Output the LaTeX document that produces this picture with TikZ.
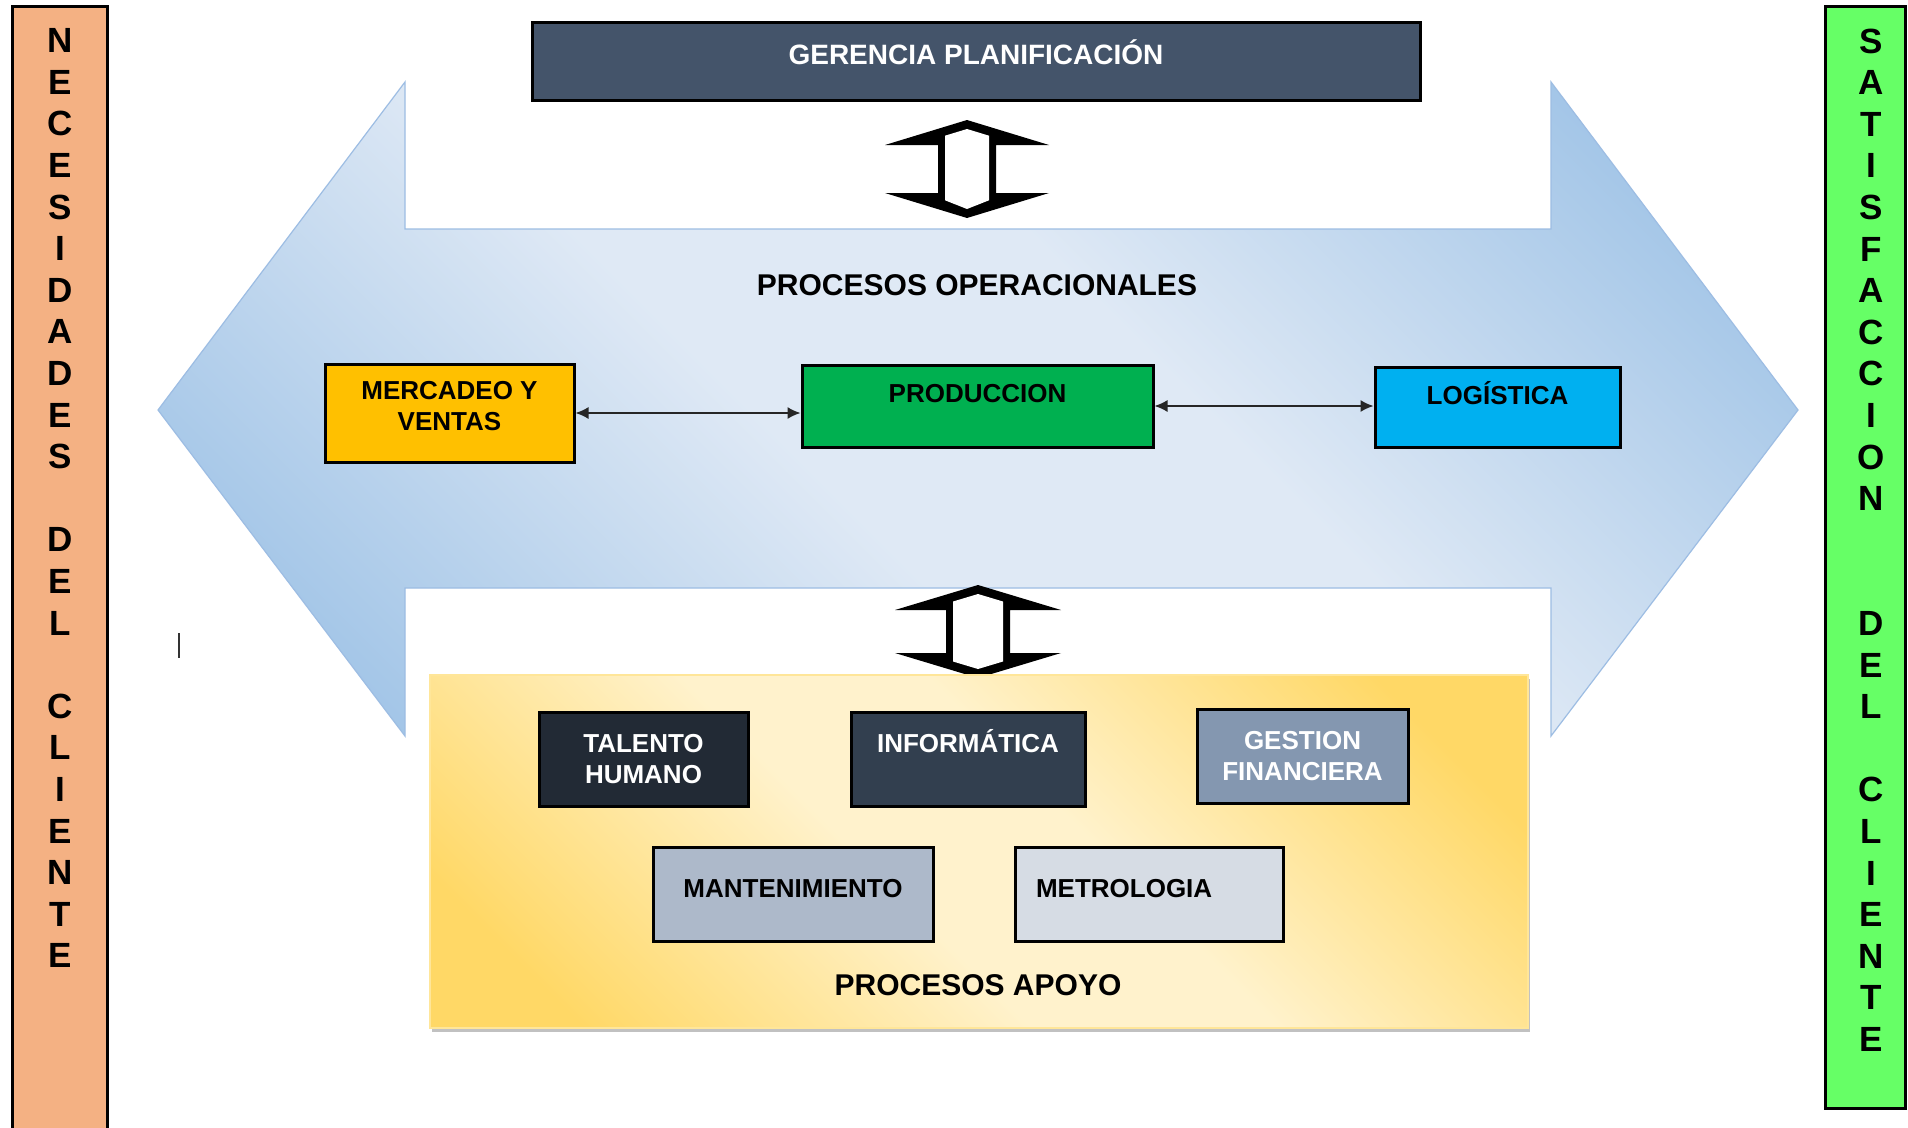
\documentclass[tikz,border=0pt]{standalone}
\usepackage{fontspec}
\setmainfont{Liberation Sans}
\usetikzlibrary{arrows.meta,shadows}
\definecolor{leftbar}{HTML}{F4B183}
\definecolor{rightbar}{HTML}{66FF66}
\definecolor{gerfill}{HTML}{44546A}
\definecolor{mercfill}{HTML}{FFC000}
\definecolor{prodfill}{HTML}{00B050}
\definecolor{logfill}{HTML}{00B0F0}
\definecolor{talfill}{HTML}{222A35}
\definecolor{inffill}{HTML}{323F4F}
\definecolor{gesfill}{HTML}{8497B0}
\definecolor{manfill}{HTML}{ADB9CA}
\definecolor{metfill}{HTML}{D6DCE4}
\definecolor{arrdark}{HTML}{9DC2E6}
\definecolor{arrlight}{HTML}{DFE9F5}
\definecolor{arredge}{HTML}{9DBDE3}
\definecolor{yeldark}{HTML}{FFD866}
\definecolor{yellight}{HTML}{FFF2CC}
\definecolor{yeledge}{HTML}{FFE699}
\pgfdeclarehorizontalshading{arrshade}{100bp}{color(0bp)=(arrdark); color(20bp)=(arrdark);
  color(43bp)=(arrlight); color(57bp)=(arrlight); color(80bp)=(arrdark); color(100bp)=(arrdark)}
\pgfdeclarehorizontalshading{yelshade}{100bp}{color(0bp)=(yeldark); color(22bp)=(yeldark);
  color(44bp)=(yellight); color(56bp)=(yellight); color(78bp)=(yeldark); color(100bp)=(yeldark)}
\begin{document}
\begin{tikzpicture}[x=1pt,y=-1pt,
  box/.style={draw=black, line width=3pt, inner sep=0pt, align=center,
    font=\fontsize{26}{30.5}\selectfont\bfseries},
  sidetxt/.style={font=\fontsize{35}{41.6}\selectfont\bfseries, align=center,
    inner sep=0pt, anchor=north},
  heading/.style={font=\fontsize{30}{34}\selectfont\bfseries, inner sep=0pt},
  link/.style={{Latex[length=13pt,width=12pt]}-{Latex[length=13pt,width=12pt]},
    line width=1.5pt, draw=black!85}]
\useasboundingbox (0,0) rectangle (1908,1127);
\fill[white] (0,0) rectangle (1908,1127);

% side bars
\fill[leftbar] (12,6) rectangle (107,1132);
\draw[line width=3pt] (12,1132) -- (12,6) -- (107,6) -- (107,1132);
\node[sidetxt] (needs) at (60,28.5)
  {N\\E\\C\\E\\S\\I\\D\\A\\D\\E\\S\\[41.6pt]D\\E\\L\\[41.6pt]C\\L\\I\\E\\N\\T\\E};
\draw[fill=rightbar, line width=3pt] (1825,6) rectangle (1905,1108);
\node[sidetxt] (satis) at (1871,28.5)
  {S\\A\\T\\I\\S\\F\\A\\C\\C\\I\\O\\N\\[83.2pt]D\\E\\L\\[41.6pt]C\\L\\I\\E\\N\\T\\E};

% big double arrow
\path[draw=arredge, line width=1.2pt, shading=arrshade, shading angle=45]
  (158,410) -- (405,82) -- (405,229) -- (1551,229) -- (1551,82) -- (1798,410)
  -- (1551,736) -- (1551,588) -- (405,588) -- (405,736) -- cycle;

% top management box
\node[box, fill=gerfill, text=white, minimum width=888pt, minimum height=78pt,
      font=\fontsize{28}{32}\selectfont\bfseries, text height=42pt, text depth=36pt]
  (ger) at (976,61) {GERENCIA PLANIFICACIÓN};

% up-down arrow (top)
\fill[black] (967,120) -- (1049,145) -- (996,145) -- (996,193) -- (1049,193)
  -- (967,218) -- (885,193) -- (938,193) -- (938,145) -- (885,145) -- cycle;
\fill[white] (967,129) -- (989,135.7) -- (989,200.3) -- (967,209) -- (945,200.3)
  -- (945,135.7) -- cycle;

% operational processes
\node[heading] (procop) at (977,285) {PROCESOS OPERACIONALES};
\node[box, fill=mercfill, minimum width=249pt, minimum height=98pt,
      text height=66.3pt, text depth=31.7pt]
  (merc) at (449.5,413) {MERCADEO Y\\VENTAS};
\node[box, fill=prodfill, minimum width=351pt, minimum height=82pt,
      text height=37.3pt, text depth=44.7pt]
  (prod) at (977.5,406) {PRODUCCION};
\node[box, fill=logfill, minimum width=245pt, minimum height=80pt,
      text height=37.3pt, text depth=42.7pt]
  (log) at (1497.5,407) {LOGÍSTICA};
\draw[link] (merc.east) -- (merc.east -| prod.west);
\draw[link] (prod.east) -- (prod.east -| log.west);

% up-down arrow (bottom)
\fill[black] (978,585) -- (1061,610) -- (1010,610) -- (1010,653) -- (1061,653)
  -- (978,678) -- (895,653) -- (946,653) -- (946,610) -- (895,610) -- cycle;
\fill[white] (978,594) -- (1003,601.5) -- (1003,661.5) -- (978,669) -- (953,661.5)
  -- (953,601.5) -- cycle;

% support processes
\path[draw=yeledge, line width=1.5pt, shading=yelshade, shading angle=45,
      drop shadow={shadow xshift=2pt, shadow yshift=-4pt, fill=black!30, opacity=0.8}]
  (430,675) rectangle (1528,1028);
\node[box, fill=talfill, text=white, minimum width=209pt, minimum height=94pt]
  (tal) at (643.5,759) {TALENTO\\HUMANO};
\node[box, fill=inffill, text=white, minimum width=234pt, minimum height=94pt,
      text height=40.3pt, text depth=53.7pt]
  (inf) at (968,759) {INFORMÁTICA};
\node[box, fill=gesfill, text=white, minimum width=211pt, minimum height=94pt]
  (ges) at (1302.5,756) {GESTION\\FINANCIERA};
\node[box, fill=manfill, minimum width=280pt, minimum height=94pt,
      text height=50.3pt, text depth=43.7pt]
  (man) at (793,894) {MANTENIMIENTO};
\node[box, fill=metfill, minimum height=94pt, inner xsep=21pt, text width=226pt,
      align=left, text height=50.3pt, text depth=43.7pt]
  (met) at (1149,894) {METROLOGIA};
\node[heading] (procap) at (978,985) {PROCESOS APOYO};

% stray cursor mark
\draw[line width=1.5pt, black!80] (179,633) -- (179,658);
\end{tikzpicture}
\end{document}
